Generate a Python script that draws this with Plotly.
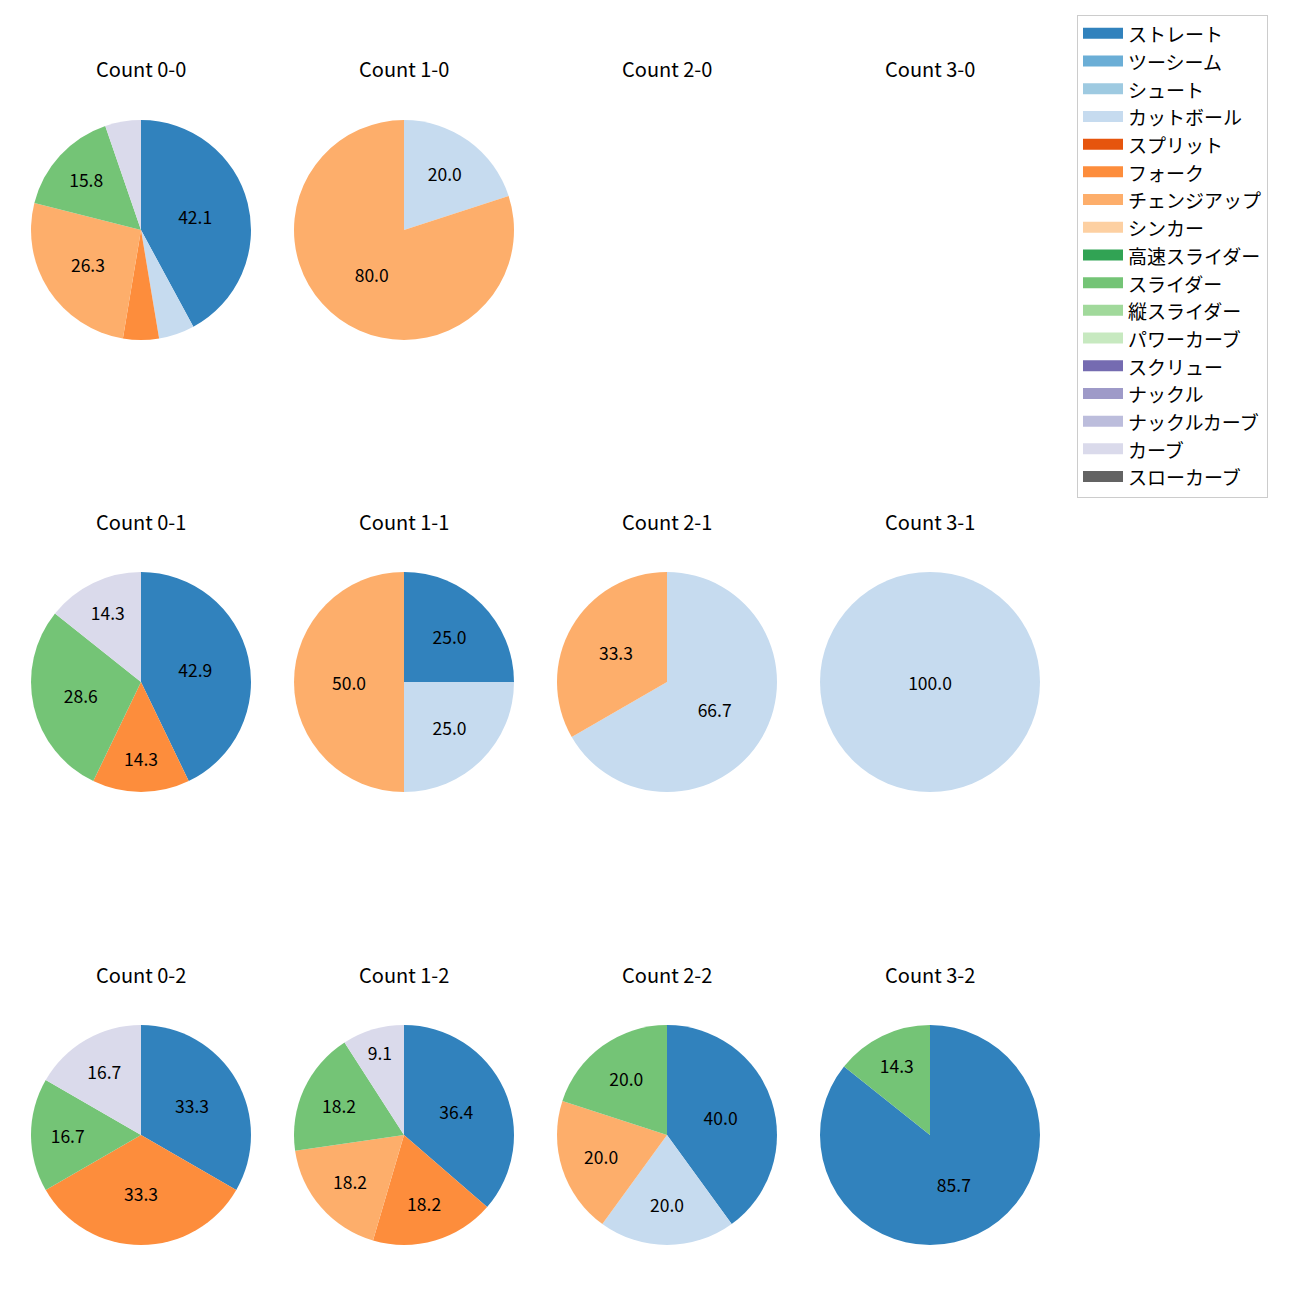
import plotly.graph_objects as go

pitch_types = ["ストレート", "ツーシーム", "シュート", "カットボール", "スプリット", "フォーク",
               "チェンジアップ", "シンカー", "高速スライダー", "スライダー", "縦スライダー",
               "パワーカーブ", "スクリュー", "ナックル", "ナックルカーブ", "カーブ", "スローカーブ"]
colors = ["#3182bd", "#6baed6", "#9ecae1", "#c6dbef", "#e6550d", "#fd8d3c",
          "#fdae6b", "#fdd0a2", "#31a354", "#74c476", "#a1d99b", "#c7e9c0",
          "#756bb1", "#9e9ac8", "#bcbddc", "#dadaeb", "#636363"]

# pitch counts per ball-strike count (order = pitch_types)
count_titles = [["Count 0-0", "Count 1-0", "Count 2-0", "Count 3-0"],
                ["Count 0-1", "Count 1-1", "Count 2-1", "Count 3-1"],
                ["Count 0-2", "Count 1-2", "Count 2-2", "Count 3-2"]]
c_0_0 = [8, 0, 0, 1, 0, 1, 5, 0, 0, 3, 0, 0, 0, 0, 0, 1, 0]
c_1_0 = [0, 0, 0, 1, 0, 0, 4, 0, 0, 0, 0, 0, 0, 0, 0, 0, 0]
c_2_0 = [0] * 17
c_3_0 = [0] * 17
c_0_1 = [3, 0, 0, 0, 0, 1, 0, 0, 0, 2, 0, 0, 0, 0, 0, 1, 0]
c_1_1 = [1, 0, 0, 1, 0, 0, 2, 0, 0, 0, 0, 0, 0, 0, 0, 0, 0]
c_2_1 = [0, 0, 0, 2, 0, 0, 1, 0, 0, 0, 0, 0, 0, 0, 0, 0, 0]
c_3_1 = [0, 0, 0, 1, 0, 0, 0, 0, 0, 0, 0, 0, 0, 0, 0, 0, 0]
c_0_2 = [2, 0, 0, 0, 0, 2, 0, 0, 0, 1, 0, 0, 0, 0, 0, 1, 0]
c_1_2 = [4, 0, 0, 0, 0, 2, 2, 0, 0, 2, 0, 0, 0, 0, 0, 1, 0]
c_2_2 = [2, 0, 0, 1, 0, 0, 1, 0, 0, 1, 0, 0, 0, 0, 0, 0, 0]
c_3_2 = [6, 0, 0, 0, 0, 0, 0, 0, 0, 1, 0, 0, 0, 0, 0, 0, 0]
grid = [[c_0_0, c_1_0, c_2_0, c_3_0],
        [c_0_1, c_1_1, c_2_1, c_3_1],
        [c_0_2, c_1_2, c_2_2, c_3_2]]

W = H = 1300
FONT = "Noto Sans CJK JP"
col_cx = [141, 404, 667, 930]
row_cy = [230, 682, 1135]
R = 110

fig = go.Figure()
for ri in range(3):
    for ci in range(4):
        vals = grid[ri][ci]
        cx, cy = col_cx[ci], row_cy[ri]
        fig.add_annotation(text=count_titles[ri][ci], x=cx / W, y=1 - (cy - 161) / H,
                           xref="paper", yref="paper", showarrow=False,
                           font=dict(size=20, color="black", family=FONT),
                           xanchor="center", yanchor="middle")
        total = sum(vals)
        if total == 0:
            continue
        labs, vs, cols, txt = [], [], [], []
        for lab, v, c in zip(pitch_types, vals, colors):
            if v > 0:
                labs.append(lab)
                vs.append(v)
                cols.append(c)
                p = 100.0 * v / total
                txt.append(f"{p:.1f}" if p >= 8 else "")
        fig.add_trace(go.Pie(
            labels=labs, values=vs, text=txt, textinfo="text",
            texttemplate="%{text}", textposition="inside",
            insidetextorientation="horizontal",
            textfont=dict(size=17.5, color="black", family=FONT),
            marker=dict(colors=cols, line=dict(width=0)),
            sort=False, direction="clockwise", rotation=0,
            showlegend=False, hoverinfo="label+percent",
            domain=dict(x=[(cx - R) / W, (cx + R) / W],
                        y=[1 - (cy + R) / H, 1 - (cy - R) / H]),
        ))

for lab, c in zip(pitch_types, colors):
    fig.add_trace(go.Scatter(x=[None], y=[None], mode="lines", name=lab,
                             fill="toself", fillcolor=c,
                             line=dict(color=c, width=14), showlegend=True))

fig.update_layout(
    width=W, height=H,
    margin=dict(l=0, r=0, t=0, b=0),
    paper_bgcolor="white", plot_bgcolor="white",
    xaxis=dict(visible=False), yaxis=dict(visible=False),
    font=dict(family=FONT, color="black"),
    legend=dict(x=1077 / W, y=1 - 15 / H, xanchor="left", yanchor="top",
                bordercolor="#cccccc", borderwidth=1, bgcolor="white",
                font=dict(size=19, family=FONT, color="black"),
                itemwidth=40, traceorder="normal"),
)
fig.write_html("out.html", config={"displayModeBar": False},
               post_script="document.body.style.margin='0px';")
